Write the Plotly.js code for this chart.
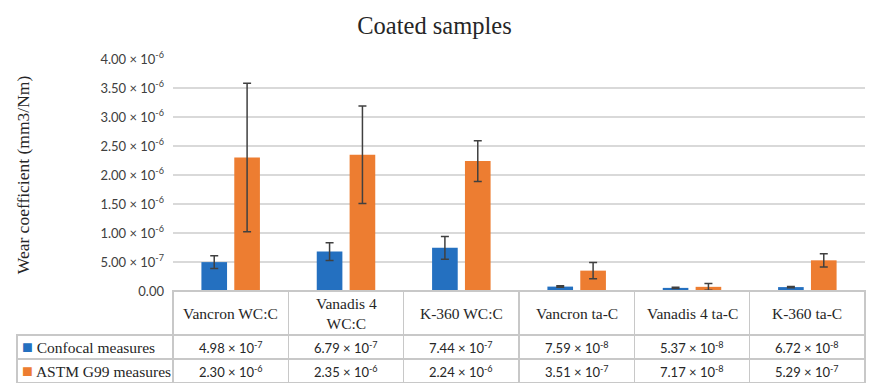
<!DOCTYPE html>
<html>
<head>
<meta charset="utf-8">
<script src="https://cdn.plot.ly/plotly-3.0.1.min.js"></script>
<style>html,body{margin:0;padding:0;background:#fff;}#chart{width:869px;height:383px;}</style>
</head>
<body>
<div id="chart"></div>
<script>
const categories = ["Vancron WC:C", "Vanadis 4 WC:C", "K-360 WC:C", "Vancron ta-C", "Vanadis 4 ta-C", "K-360 ta-C"];
const categoryLabels = ["Vancron WC:C", "Vanadis 4<br>WC:C", "K-360 WC:C", "Vancron ta-C", "Vanadis 4 ta-C", "K-360 ta-C"];
const seriesNames = ["Confocal measures", "ASTM G99 measures"];
const confocal = [4.98e-7, 6.79e-7, 7.44e-7, 7.59e-8, 5.37e-8, 6.72e-8];
const confocalErr = [1.1e-7, 1.55e-7, 1.95e-7, 1.3e-8, 1.0e-8, 1.0e-8];
const astm = [2.30e-6, 2.35e-6, 2.24e-6, 3.51e-7, 7.17e-8, 5.29e-7];
const astmErr = [1.28e-6, 0.84e-6, 0.35e-6, 1.4e-7, 5.8e-8, 1.15e-7];
const yTicks = [0, 5e-7, 1e-6, 1.5e-6, 2e-6, 2.5e-6, 3e-6, 3.5e-6, 4e-6];

const BLUE = "#2470c0", ORANGE = "#ed7d31";
const SERIF = "Liberation Serif, DejaVu Serif, serif";
const SANS = "Lato, Open Sans, sans-serif";

function sci(v) {
  if (v === 0) return "0.00";
  const e = Math.floor(Math.log10(v) + 1e-9);
  const m = v / Math.pow(10, e);
  return m.toFixed(2) + " × 10<sup>" + e + "</sup>";
}

const W = 869, H = 383;
const M = {l: 17, r: 4, t: 59, b: 0};
const plotW = W - M.l - M.r, plotH = H - M.t - M.b;
const tableLeft = 17, axisLeft = 173, tableH = 92;
const headerH = 44, rowH = 24;
const xDom0 = (axisLeft - tableLeft) / plotW;
const yDom0 = tableH / plotH;
const nCat = categories.length;
const rep = (v) => categories.map(() => v);
const series = [confocal, astm];
const colors = [BLUE, ORANGE];
const rowY = (j) => (tableH - headerH - rowH * (j + 0.5)) / plotH;

const traces = [
  {type: "bar", x: categories, y: confocal, name: seriesNames[0], marker: {color: BLUE},
   error_y: {type: "data", array: confocalErr, visible: true, color: "#404040", thickness: 1.5, width: 4},
   xaxis: "x", yaxis: "y", hoverinfo: "none"},
  {type: "bar", x: categories, y: astm, name: seriesNames[1], marker: {color: ORANGE},
   error_y: {type: "data", array: astmErr, visible: true, color: "#404040", thickness: 1.5, width: 4},
   xaxis: "x", yaxis: "y", hoverinfo: "none"},
  {type: "table",
   domain: {x: [0, 1], y: [0, yDom0]},
   columnwidth: [axisLeft - tableLeft].concat(rep((W - M.r - axisLeft) / nCat)),
   header: {values: [""].concat(rep("")), height: headerH,
            line: {color: ["rgba(0,0,0,0)"].concat(rep("#c8c8c8")), width: 1.5},
            fill: {color: ["rgba(0,0,0,0)"].concat(rep("#ffffff"))}},
   cells: {values: [["", ""]].concat(rep(["", ""])),
           height: rowH,
           line: {color: "#c8c8c8", width: 1.5},
           fill: {color: "#ffffff"},
           font: {family: SANS, size: 13, color: "#262626"}}
  }
];

let annotations = categories.map((c, i) => ({
  x: c, xref: "x", y: (tableH - headerH / 2) / plotH, yref: "paper",
  text: categoryLabels[i], showarrow: false, xanchor: "center", yanchor: "middle",
  font: {family: SERIF, size: 15.5, color: "#262626"}
}));
seriesNames.forEach((s, j) => {
  annotations.push({
    x: (20 - tableLeft) / plotW, xref: "paper", xanchor: "left",
    y: rowY(j), yref: "paper", yanchor: "middle",
    text: '<span style="color:' + colors[j] + ';font-size:18px">■</span> ' + s, showarrow: false,
    font: {family: SERIF, size: 15.5, color: "#262626"}
  });
  categories.forEach((c, i) => {
    annotations.push({
      x: c, xref: "x", xanchor: "center",
      y: rowY(j), yref: "paper", yanchor: "middle",
      text: sci(series[j][i]), showarrow: false,
      font: {family: SANS, size: 13, color: "#262626"}
    });
  });
});

const layout = {
  width: W, height: H,
  margin: M,
  paper_bgcolor: "#ffffff", plot_bgcolor: "#ffffff",
  showlegend: false,
  barmode: "group", bargap: 0.43, bargroupgap: 0.22,
  title: {text: "Coated samples", x: 0.5, xanchor: "center", y: (H - 25) / H, yanchor: "middle",
          font: {family: SERIF, size: 24.5, color: "#262626"}},
  xaxis: {domain: [xDom0, 1], showticklabels: false, showgrid: false, zeroline: false,
          showline: false, ticks: "", fixedrange: true},
  yaxis: {domain: [yDom0, 1], range: [0, 4e-6], tickvals: yTicks, ticktext: yTicks.map(sci),
          showgrid: true, gridcolor: "#d9d9d9", gridwidth: 1.5, zeroline: false, showline: false,
          ticks: "", ticklabelstandoff: 8,
          tickfont: {family: SANS, size: 13, color: "#404040"},
          title: {text: "Wear coefficient (mm3/Nm)", standoff: 66, font: {family: SERIF, size: 17.5, color: "#262626"}}},
  annotations: annotations
};

Plotly.newPlot("chart", traces, layout, {displayModeBar: false, staticPlot: true});
</script>
</body>
</html>
